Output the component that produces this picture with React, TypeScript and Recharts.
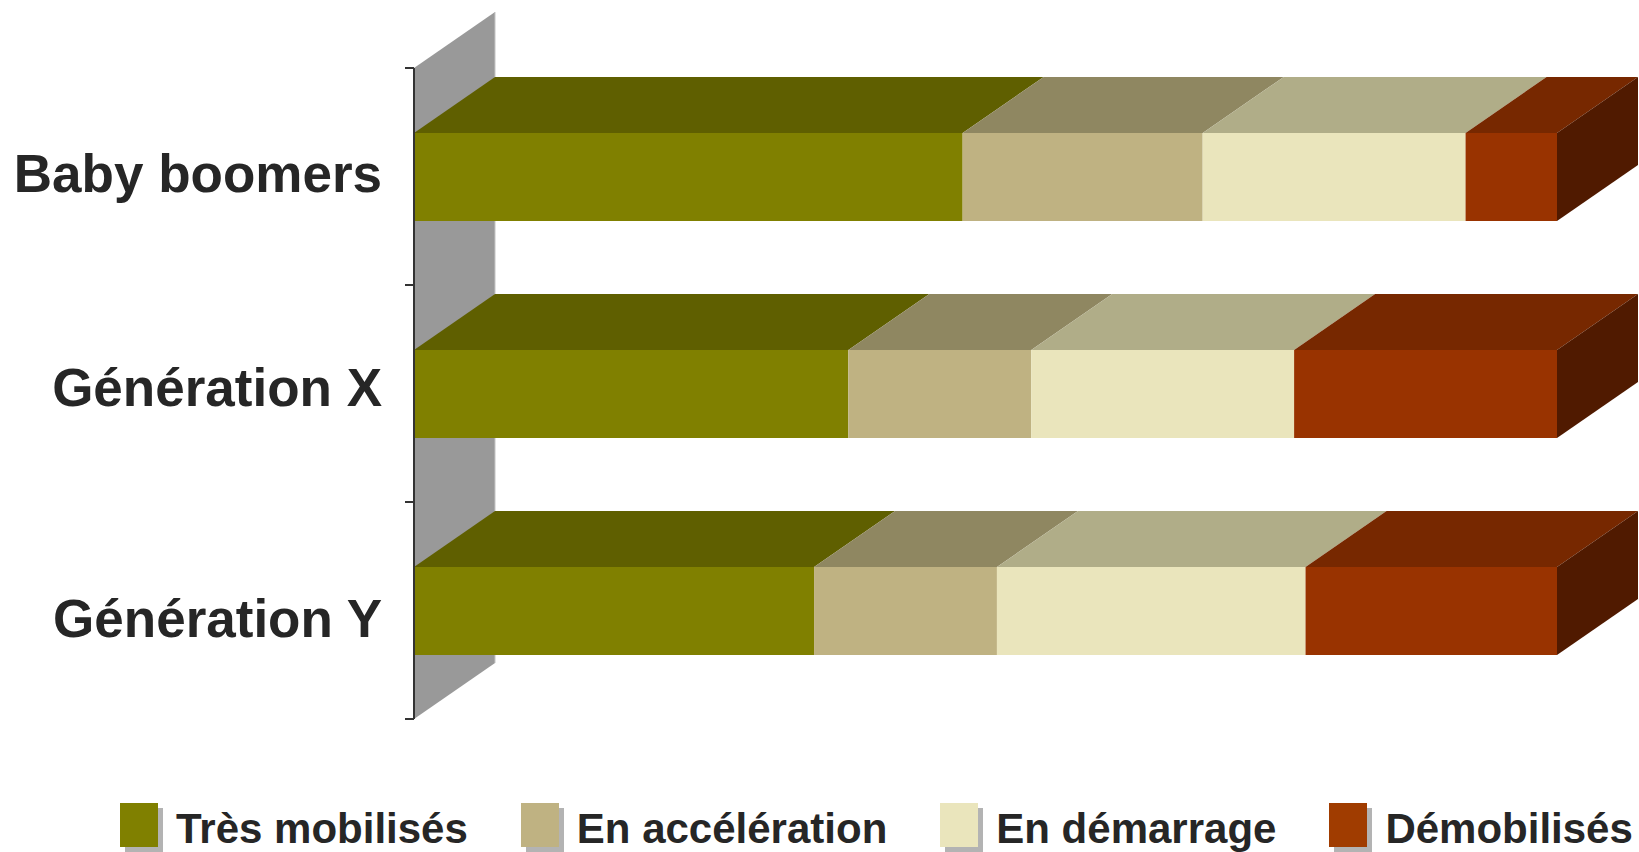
import { BarChart, Bar, XAxis, YAxis, Legend, ReferenceArea } from 'recharts'

// survey shares per generation (percent, each row sums to 100)
const categories = ['Baby boomers', 'Génération X', 'Génération Y']
const tresMobilises = [48, 38, 35]
const enAcceleration = [21, 16, 16]
const enDemarrage = [23, 23, 27]
const demobilises = [8, 23, 22]

const seriesNames = ['Très mobilisés', 'En accélération', 'En démarrage', 'Démobilisés']

const SERIES = [
  { key: 'tres', name: seriesNames[0], front: '#808000', top: '#5f5f00', legend: '#808000' },
  { key: 'accel', name: seriesNames[1], front: '#bfb282', top: '#8f8761', legend: '#bfb282' },
  { key: 'demar', name: seriesNames[2], front: '#eae5bc', top: '#b0ad88', legend: '#eae5bc' },
  { key: 'demob', name: seriesNames[3], front: '#993300', top: '#772800', side: '#501a00', legend: '#a03c00' },
]

const data = categories.map((name, i) => ({
  name,
  tres: tresMobilises[i],
  accel: enAcceleration[i],
  demar: enDemarrage[i],
  demob: demobilises[i],
}))

const W = 1639
const H = 852
const DEPTH_X = 81
const DEPTH_Y = 56
const FONT = '"Liberation Sans", Arial, Helvetica, sans-serif'
const TEXT = '#262626'
// baseline shift of each category label relative to its band centre
const LABEL_DY = [15, 12, 26]

function makeShape(front: string, top: string, side?: string) {
  return (props: any) => {
    const { x, y, width, height } = props
    if (width == null || height == null) return <g />
    const topPts = `${x},${y} ${x + DEPTH_X},${y - DEPTH_Y} ${x + width + DEPTH_X},${y - DEPTH_Y} ${x + width},${y}`
    return (
      <g>
        <rect x={x} y={y} width={width} height={height} fill={front} />
        <polygon points={topPts} fill={top} />
        {side && (
          <polygon
            points={`${x + width},${y} ${x + width + DEPTH_X},${y - DEPTH_Y} ${x + width + DEPTH_X},${y + height - DEPTH_Y} ${x + width},${y + height}`}
            fill={side}
          />
        )}
      </g>
    )
  }
}

// back wall of the 3D plot, plus the tick marks on band boundaries
function Wall(props: any) {
  const { x, y, height } = props
  const band = height / categories.length
  const ticks = Array.from({ length: categories.length + 1 }, (_, i) => y + i * band)
  return (
    <g>
      <polygon
        points={`${x},${y + height} ${x},${y} ${x + DEPTH_X},${y - DEPTH_Y} ${x + DEPTH_X},${y + height - DEPTH_Y}`}
        fill="#999999"
      />
      <line x1={x + DEPTH_X} y1={y - DEPTH_Y} x2={x + DEPTH_X} y2={y + height - DEPTH_Y} stroke="#c4c4c4" strokeWidth={1} />
      {ticks.map((t, i) => (
        <line key={i} x1={x - 9} y1={t} x2={x} y2={t} stroke="#333" strokeWidth={2} />
      ))}
    </g>
  )
}

function CategoryTick({ x, y, payload, index }: any) {
  return (
    <text
      x={x - 32}
      y={y + (LABEL_DY[index] ?? 17)}
      textAnchor="end"
      fontFamily={FONT}
      fontSize={53}
      fontWeight={700}
      fill={TEXT}
    >
      {payload.value}
    </text>
  )
}

function LegendContent() {
  return (
    <div style={{ display: 'flex', paddingLeft: 120, height: 48, whiteSpace: 'nowrap', fontFamily: FONT }}>
      {SERIES.map((s) => (
        <div key={s.key} style={{ display: 'flex', alignItems: 'flex-start', marginRight: 53 }}>
          <span
            style={{
              display: 'inline-block',
              width: 38,
              height: 44,
              background: s.legend,
              boxShadow: '5px 5px 0 #b3b3b3',
              marginRight: 18,
            }}
          />
          <span style={{ fontSize: 42, fontWeight: 700, color: TEXT, lineHeight: '52px' }}>{s.name}</span>
        </div>
      ))}
    </div>
  )
}

export default function App() {
  return (
    <div style={{ position: 'absolute', left: 0, top: 0, width: W, height: H, overflow: 'hidden', background: '#fff' }}>
      <BarChart
        width={W}
        height={H}
        data={data}
        layout="vertical"
        margin={{ top: 68, right: 82, bottom: 133, left: 0 }}
        barSize={88}
      >
        <XAxis type="number" domain={[0, 100]} hide />
        <ReferenceArea x1={0} x2={100} ifOverflow="visible" shape={<Wall />} />
        {SERIES.map((s) => (
          <Bar
            key={s.key}
            dataKey={s.key}
            name={s.name}
            stackId="a"
            fill={s.front}
            isAnimationActive={false}
            shape={makeShape(s.front, s.top, s.side)}
          />
        ))}
        <YAxis
          type="category"
          dataKey="name"
          width={414}
          tickLine={false}
          tickSize={0}
          tickMargin={0}
          axisLine={{ stroke: '#333', strokeWidth: 2 }}
          tick={<CategoryTick />}
        />
        <Legend
          layout="horizontal"
          verticalAlign="middle"
          align="center"
          wrapperStyle={{ top: 803, left: 0, width: W }}
          content={<LegendContent />}
        />
      </BarChart>
    </div>
  )
}
